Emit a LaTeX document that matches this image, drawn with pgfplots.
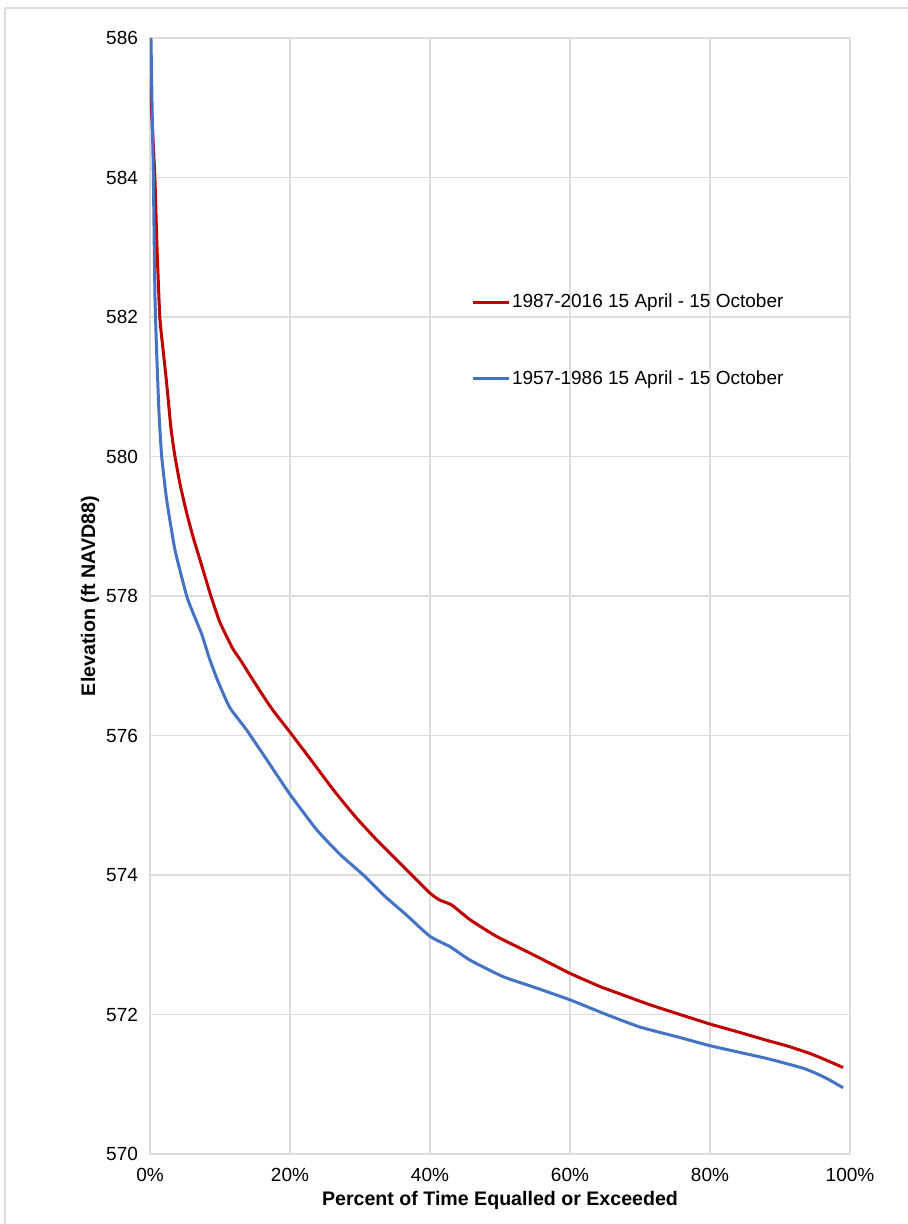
\documentclass[border=0pt]{standalone}
\usepackage{fontspec}
\setmainfont{Liberation Sans}
\usepackage{pgfplots}
\pgfplotsset{compat=1.18}
\definecolor{redline}{HTML}{C00000}
\definecolor{blueline}{HTML}{4472C4}
\definecolor{gridc}{HTML}{DCDCDC}
\begin{document}
\begin{tikzpicture}
\useasboundingbox (-75pt,-35pt) rectangle (379pt,577pt);
\draw[gridc, line width=0.6pt] (-72.5pt,573pt) -- (395pt,573pt);
\draw[gridc, line width=0.6pt] (-72.5pt,573pt) -- (-72.5pt,-50pt);
\begin{axis}[
  scale only axis,
  width=350pt, height=558pt,
  xmin=0, xmax=100, ymin=570, ymax=586,
  xtick={0,20,...,100}, ytick={570,572,...,586},
  xticklabel={\pgfmathprintnumber{\tick}\%},
  /pgf/number format/assume math mode=true,
  yticklabel style={/pgf/number format/1000 sep={}, xshift=-2.5pt},
  xticklabel style={yshift=-3.5pt},
  tick label style={font=\fontsize{9.5}{11}\selectfont, text=black},
  major tick length=0pt,
  grid=major,
  grid style={gridc, line width=0.55pt},
  axis line style={gridc, line width=0.55pt},
  xlabel={Percent of Time Equalled or Exceeded},
  ylabel={Elevation (ft NAVD88)},
  label style={font=\bfseries\fontsize{9.8}{11}\selectfont},
  xlabel style={at={(axis description cs:0.5,-0.0412)}, anchor=center},
  ylabel style={at={(axis description cs:-0.0857,0.5)}, anchor=center},
  legend style={at={(0.458,0.773)}, anchor=north west, draw=none, fill=none,
    inner sep=0pt, row sep=28pt, font=\fontsize{9.5}{11}\selectfont,
    nodes={inner sep=1pt}},
  legend cell align=left,
  legend image code/.code={\draw[#1] (0pt,0pt) -- (18pt,0pt);},
  line join=round,
]
\addplot[redline, line width=1.5pt, smooth, tension=0.3] coordinates {
(0,585.42) (0.3,584.8) (0.7,584.0) (1.0,583.0) (1.4,582.0) (1.9,581.5)
(2.38,581.05) (3.0,580.4) (3.57,580.0) (4.3,579.6) (5.24,579.19) (6.2,578.83)
(7.14,578.52) (8.7,578.0) (10.0,577.62) (11.8,577.25) (13.0,577.07) (14.3,576.86)
(15.7,576.64) (17.5,576.37) (19.9,576.06) (23,575.65) (26.2,575.22) (29.3,574.84)
(32.6,574.48) (36.2,574.12) (40,573.74) (41.4,573.64) (43.1,573.57)
(45.7,573.36) (49.5,573.12) (54.3,572.88) (60,572.59) (64.3,572.40) (66.2,572.33)
(71.4,572.14) (75.7,572.0) (80.1,571.86) (84,571.75) (88.1,571.63) (91,571.55)
(94.3,571.44) (96.5,571.35) (99,571.24)
};
\addlegendentry{1987-2016 15 April - 15 October}
\addplot[blueline, line width=1.5pt, smooth, tension=0.3] coordinates {
(0.14,586.0) (0.3,585.0) (0.48,584.0) (0.71,582.3) (0.95,581.5) (1.3,580.6)
(1.67,580.0) (2.38,579.38) (3.57,578.66) (5.24,578.0) (6.3,577.72) (7.4,577.45)
(8.5,577.1) (9.7,576.78) (11.4,576.4) (13.8,576.08) (16.7,575.65) (19.9,575.17)
(23.8,574.65) (27.1,574.3) (30.7,573.98) (33.5,573.7) (36.7,573.42) (40,573.12)
(42.9,572.97) (45.7,572.78) (50.5,572.54) (55.2,572.38) (60,572.21) (65.2,572.0)
(70,571.82) (75.7,571.67) (80.1,571.55) (88.1,571.37) (93.3,571.23) (95.5,571.14)
(97.1,571.06) (99,570.95)
};
\addlegendentry{1957-1986 15 April - 15 October}
\end{axis}
\end{tikzpicture}
\end{document}
